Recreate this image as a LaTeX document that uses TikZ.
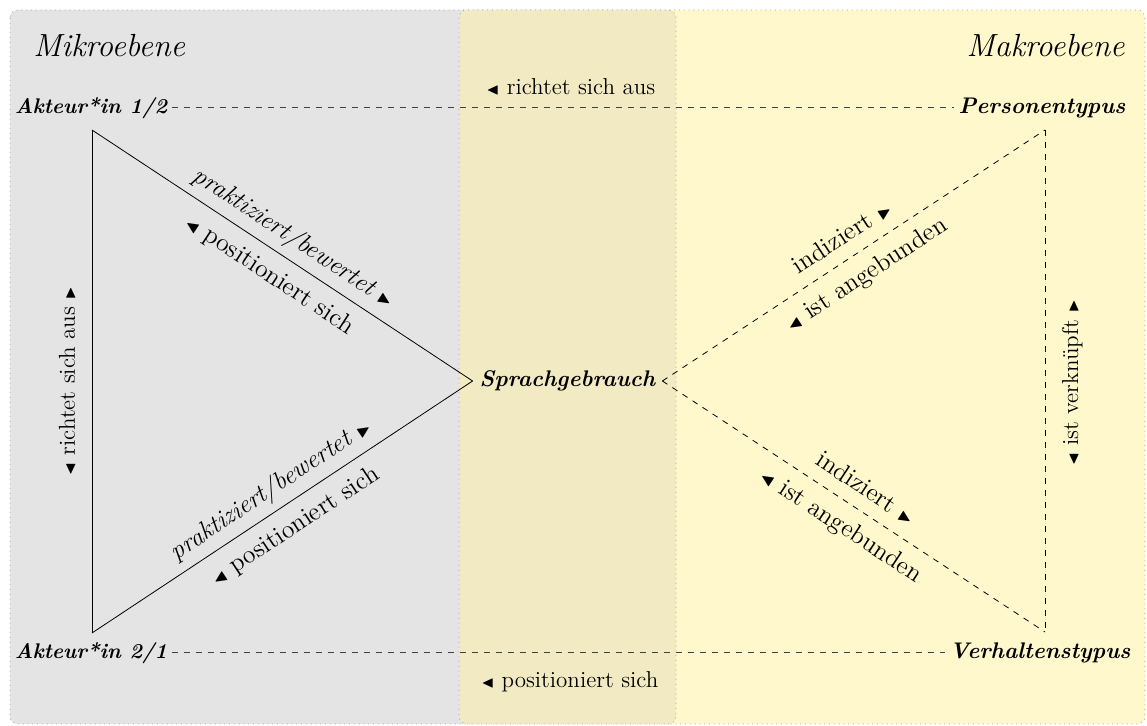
\documentclass[tikz,border=0pt]{standalone}
\usepackage{amssymb}
\usetikzlibrary{calc}
\definecolor{panelgray}{RGB}{228,228,228}
\definecolor{paneltan}{RGB}{242,234,194}
\definecolor{panelyellow}{RGB}{255,248,204}
\newcommand{\arrL}{\ensuremath{\scriptstyle\blacktriangleleft}}
\newcommand{\arrR}{\ensuremath{\scriptstyle\blacktriangleright}}
% #1 start, #2 end, #3 name prefix, #4 text above, #5 text below
\newcommand{\edgelabels}[5]{%
  \path let \p1=($(#2)-(#1)$), \n1={atan2(\y1,\x1)} in
    node[slab, rotate=\n1] (#3a) at ($(#1)!0.5!(#2)!7pt!90:(#2)$) {#4}
    node[slab, rotate=\n1] (#3b) at ($(#1)!0.5!(#2)!15pt!-90:(#2)$) {#5};}
\begin{document}
\begin{tikzpicture}[x=0.5pt,y=-0.5pt,
  lvl/.style={font=\fontsize{16}{19}\selectfont\itshape, inner sep=0pt},
  actor/.style={font=\fontsize{11.3}{14}\selectfont\bfseries\itshape, inner ysep=0pt, inner xsep=2pt},
  rel/.style={font=\fontsize{11.5}{14}\selectfont, inner sep=0pt},
  slab/.style={font=\fontsize{12.8}{15}\selectfont, inner sep=0pt, anchor=base},
  solidline/.style={draw=black, line width=0.4pt},
  dashline/.style={draw=black, dashed, line width=0.4pt},
  hdashline/.style={draw=black!75, dashed, line width=0.5pt},
  border/.style={draw=gray!80, dotted, line width=0.4pt}]
\useasboundingbox (0,0) rectangle (1147,726);
% panels
\fill[panelyellow, rounded corners=4pt] (10,10) rectangle (1145,724);
\fill[panelgray, rounded corners=4pt] (10,10) rectangle (480,724);
\draw[border, rounded corners=4pt] (10,10) rectangle (1145,724);
\filldraw[border, fill=paneltan, rounded corners=4pt] (459,10) rectangle (676,724);
% level titles
\node[lvl, anchor=base west] (mikro) at (33,57) {Mikroebene};
\node[lvl, anchor=base east] (makro) at (1125,57) {Makroebene};
% main nodes
\node[actor, font=\fontsize{10.6}{13}\selectfont\bfseries\itshape] (a1) at (91,108) {Akteur*in 1/2};
\node[actor, font=\fontsize{10.6}{13}\selectfont\bfseries\itshape] (a2) at (91,653) {Akteur*in 2/1};
\node[actor] (pt) at (1042,108) {Personentypus};
\node[actor] (vt) at (1040,653) {Verhaltenstypus};
\node[actor, minimum width=94.5pt, inner xsep=0pt] (sg) at (567.5,381) {Sprachgebrauch};
% triangle corners
\coordinate (l1) at (92,130);
\coordinate (l2) at (92,633);
\coordinate (r1) at (1045,130);
\coordinate (r2) at (1045,632);
% horizontal dashed links
\draw[hdashline] (a1.east) -- (pt.west);
\draw[hdashline] (a2.east) -- (vt.west);
% left triangle
\draw[solidline] (l1) -- (l2);
\draw[solidline] (l1) -- (sg.west);
\draw[solidline] (l2) -- (sg.west);
% right triangle
\draw[dashline] (r1) -- (r2);
\draw[dashline] (sg.east) -- (r1);
\draw[dashline] (sg.east) -- (r2);
% edge labels
\edgelabels{l1}{sg.west}{ul}{\itshape praktiziert/bewertet \arrR}{\arrL\ positioniert sich}
\edgelabels{l2}{sg.west}{ll}{\itshape praktiziert/bewertet \arrR}{\arrL\ positioniert sich}
\edgelabels{sg.east}{r1}{ur}{indiziert \arrR}{\arrL\ ist angebunden}
\edgelabels{sg.east}{r2}{lr}{indiziert \arrR}{\arrL\ ist angebunden}
% relation labels
\node[rel, anchor=base] (toprel) at (571,95) {\arrL\ richtet sich aus};
\node[rel, anchor=base] (botrel) at (570,688) {\arrL\ positioniert sich};
\node[rel, rotate=90, anchor=base] (leftrel) at (75,381) {\arrL\ richtet sich aus \arrR};
\node[rel, rotate=90, anchor=base] (rightrel) at (1078,383) {\arrL\ ist verknüpft \arrR};
\end{tikzpicture}
\end{document}
